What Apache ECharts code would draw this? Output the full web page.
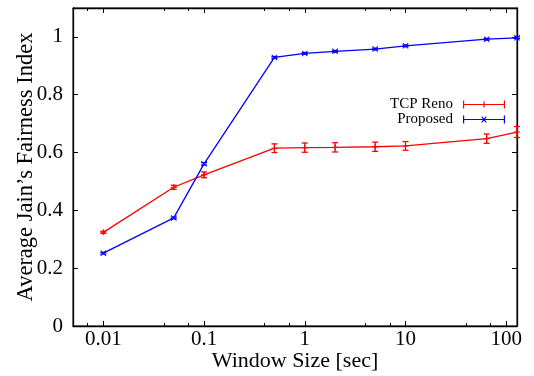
<!DOCTYPE html>
<html>
<head>
<meta charset="utf-8">
<script src="https://cdn.jsdelivr.net/npm/echarts@6/dist/echarts.min.js"></script>
<style>
  html, body { margin: 0; padding: 0; background: #fff; }
  #chart { width: 534px; height: 376px; }
</style>
</head>
<body>
<div id="chart"></div>
<script>
// window sizes (sec)
const windowSizes = [0.01, 0.05, 0.1, 0.5, 1, 2, 5, 10, 64, 128];
// TCP Reno: mean and error half-width
const renoMean = [0.324, 0.480, 0.523, 0.615, 0.617, 0.618, 0.620, 0.623, 0.648, 0.671];
const renoErr = [0.004, 0.007, 0.010, 0.015, 0.016, 0.016, 0.016, 0.015, 0.016, 0.019];
// Proposed: mean and error half-width
const propMean = [0.252, 0.374, 0.561, 0.929, 0.943, 0.950, 0.958, 0.969, 0.992, 0.997];
const propErr = [0.003, 0.003, 0.004, 0.003, 0.003, 0.003, 0.003, 0.003, 0.003, 0.003];
const yTicks = [0, 0.2, 0.4, 0.6, 0.8, 1];

const RED = '#ff0000';
const BLUE = '#0000ff';
const FONT = 'Liberation Serif';

const plusSymbol = 'path://M2.5,0h1v6h-1z M0,2.5h6v1h-6z';
const crossSymbol = 'path://M0,0.6L0.6,0L6,5.4L5.4,6z M5.4,0L6,0.6L0.6,6L0,5.4z';

// legend icons: line with error bar caps and the point marker
const renoIcon = 'path://M0,3.4h42v1.2h-42z M0,0h1.2v8h-1.2z M40.8,0h1.2v8h-1.2z M20.4,1h1.2v6h-1.2z M18,3.4h6v1.2h-6z';
const propIcon = 'path://M0,3.4h42v1.2h-42z M0,0h1.2v8h-1.2z M40.8,0h1.2v8h-1.2z M18.3,1.5L19.1,0.7L23.7,6.5L22.9,7.3z M22.9,0.7L23.7,1.5L19.1,7.3L18.3,6.5z';

const toPairs = (xs, ys) => xs.map((x, i) => [x, ys[i]]);
const toErr = (xs, ys, es) => xs.map((x, i) => [x, ys[i] - es[i], ys[i] + es[i]]);

function errorBars(color) {
  return function (params, api) {
    const x = api.value(0);
    const lo = api.coord([x, api.value(1)]);
    const hi = api.coord([x, api.value(2)]);
    const w = 3;
    const style = { stroke: color, lineWidth: 1.3 };
    return {
      type: 'group',
      children: [
        { type: 'line', shape: { x1: lo[0], y1: lo[1], x2: hi[0], y2: hi[1] }, style },
        { type: 'line', shape: { x1: lo[0] - w, y1: lo[1], x2: lo[0] + w, y2: lo[1] }, style },
        { type: 'line', shape: { x1: hi[0] - w, y1: hi[1], x2: hi[0] + w, y2: hi[1] }, style }
      ]
    };
  };
}

const logLabel = (v) => {
  const e = Math.log10(v);
  const r = Math.round(e);
  if (Math.abs(e - r) > 1e-6) return '';
  return r < 0 ? Math.pow(10, r).toFixed(-r) : String(Math.pow(10, r));
};

const yLabel = (v) => {
  const hit = yTicks.find(t => Math.abs(t - v) < 1e-9);
  return hit === undefined ? '' : String(hit);
};

const xAxisBase = {
  type: 'log',
  logBase: 10,
  min: 0.005,
  max: 128,
  axisLine: { show: true, onZero: false, lineStyle: { color: '#000', width: 1.3 } },
  axisTick: { show: true, inside: true, length: 5, lineStyle: { color: '#000' } },
  minorTick: { show: true, splitNumber: 3, length: 3, lineStyle: { color: '#000' } },
  splitLine: { show: false },
  minorSplitLine: { show: false }
};

const yAxisBase = {
  type: 'value',
  min: 0,
  max: 1.1,
  interval: 0.2,
  axisLine: { show: true, onZero: false, lineStyle: { color: '#000', width: 1.3 } },
  axisTick: { show: true, inside: true, length: 5, lineStyle: { color: '#000' } },
  splitLine: { show: false }
};

const chart = echarts.init(document.getElementById('chart'), null, { renderer: 'canvas' });

chart.setOption({
  animation: false,
  backgroundColor: '#fff',
  textStyle: { fontFamily: FONT },
  grid: {
    left: 73, right: 17, top: 8, bottom: 50,
    show: true, borderColor: '#000', borderWidth: 1,
    containLabel: false, outerBoundsMode: 'none'
  },
  legend: {
    orient: 'vertical',
    right: 24,
    top: 92,
    align: 'right',
    itemWidth: 42,
    itemHeight: 8,
    itemGap: 0,
    textStyle: { fontFamily: FONT, fontSize: 15, color: '#000', lineHeight: 15, padding: [0, 5, 0, 0] },
    data: [
      { name: 'TCP Reno', icon: renoIcon },
      { name: 'Proposed', icon: propIcon }
    ]
  },
  xAxis: [
    Object.assign({}, xAxisBase, {
      position: 'bottom',
      name: 'Window Size [sec]',
      nameLocation: 'middle',
      nameGap: 24,
      nameMoveOverlap: false,
      nameTextStyle: { fontFamily: FONT, fontSize: 22, color: '#000' },
      axisLabel: { fontFamily: FONT, fontSize: 21, color: '#000', margin: 3, formatter: logLabel }
    }),
    Object.assign({}, xAxisBase, {
      position: 'top',
      axisLabel: { show: false }
    })
  ],
  yAxis: [
    Object.assign({}, yAxisBase, {
      position: 'left',
      name: 'Average Jain’s Fairness Index',
      nameLocation: 'middle',
      nameGap: 35,
      nameMoveOverlap: false,
      nameTextStyle: { fontFamily: FONT, fontSize: 22.5, color: '#000' },
      axisLabel: { fontFamily: FONT, fontSize: 21, color: '#000', margin: 10, formatter: yLabel }
    }),
    Object.assign({}, yAxisBase, {
      position: 'right',
      axisLabel: { show: false }
    })
  ],
  series: [
    {
      name: 'TCP Reno',
      type: 'line',
      data: toPairs(windowSizes, renoMean),
      symbol: plusSymbol,
      symbolSize: 6,
      lineStyle: { color: RED, width: 1.3 },
      itemStyle: { color: RED },
      z: 3
    },
    {
      name: 'TCP Reno',
      type: 'custom',
      data: toErr(windowSizes, renoMean, renoErr),
      renderItem: errorBars(RED),
      encode: { x: 0, y: [1, 2] },
      z: 3
    },
    {
      name: 'Proposed',
      type: 'line',
      data: toPairs(windowSizes, propMean),
      symbol: crossSymbol,
      symbolSize: 6,
      lineStyle: { color: BLUE, width: 1.3 },
      itemStyle: { color: BLUE },
      z: 4
    },
    {
      name: 'Proposed',
      type: 'custom',
      data: toErr(windowSizes, propMean, propErr),
      renderItem: errorBars(BLUE),
      encode: { x: 0, y: [1, 2] },
      z: 4
    }
  ]
});
</script>
</body>
</html>
